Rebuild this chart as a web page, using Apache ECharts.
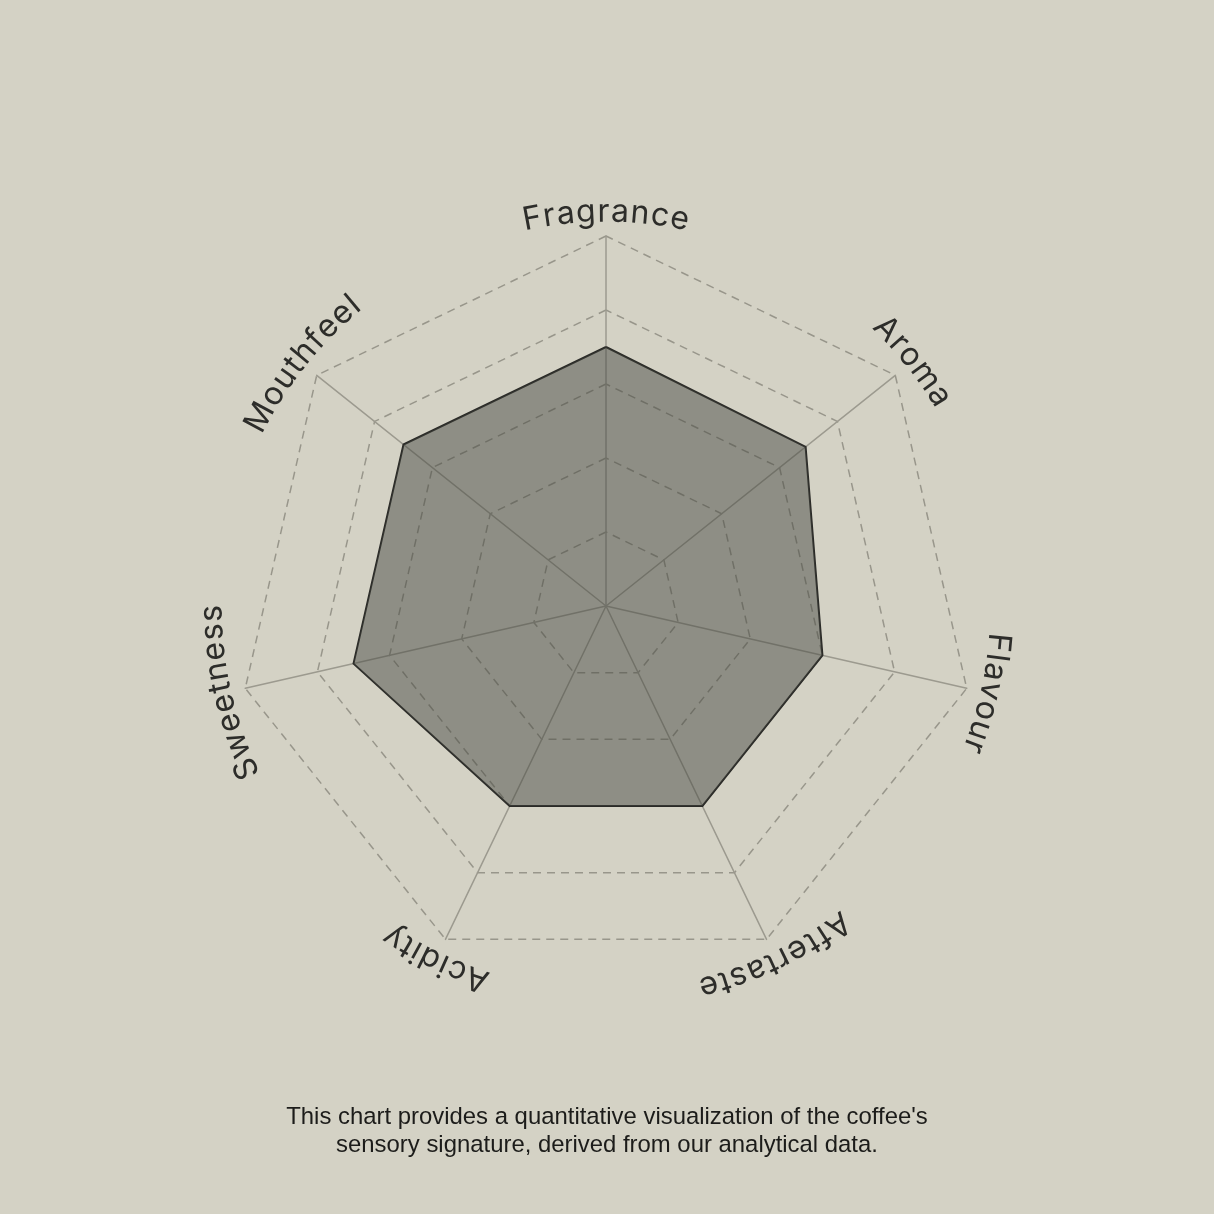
<!DOCTYPE html>
<html style="height: 100%">
<head>
    <meta charset="utf-8">
</head>
<body style="height: 100%; margin: 0; background: #d4d2c5">
<div id="container" style="width: 1214px; height: 1214px"></div>
<script type="text/javascript" src="https://cdn.jsdelivr.net/npm/echarts@6/dist/echarts.min.js"></script>
<script type="text/javascript">
// sensory profile, listed clockwise from the top
var attributes = ['Fragrance', 'Aroma', 'Flavour', 'Aftertaste', 'Acidity', 'Sweetness', 'Mouthfeel'];
var scores = [7, 6.9, 6, 6, 6, 7, 7];
var maxScore = 10;
var caption = "This chart provides a quantitative visualization of the coffee's\nsensory signature, derived from our analytical data.";

var cx = 606, cy = 606, rad = 370;
var labelRadius = 394;
var labelFont = '32px Inter';
var letterGap = 1.6;

var dom = document.getElementById('container');
var myChart = echarts.init(dom);

// echarts walks the radar counter-clockwise, so flip the order after the first one
var order = [0];
for (var k = attributes.length - 1; k > 0; k--) order.push(k);

// names are bent along a circle, one glyph at a time
var ctx = document.createElement('canvas').getContext('2d');
ctx.font = labelFont;
function arcLabel(text, centerAngle) {
    var widths = [];
    var total = 0;
    for (var i = 0; i < text.length; i++) {
        var w = ctx.measureText(text[i]).width;
        widths.push(w);
        total += w + (i > 0 ? letterGap : 0);
    }
    var items = [];
    var pos = 0;
    for (var j = 0; j < text.length; j++) {
        var mid = pos + widths[j] / 2 - total / 2;
        var a = centerAngle - mid / labelRadius;
        items.push({
            type: 'text',
            x: cx + labelRadius * Math.cos(a),
            y: cy - labelRadius * Math.sin(a),
            rotation: a - Math.PI / 2,
            style: {
                text: text[j],
                font: labelFont,
                fill: '#2d2d2a',
                align: 'center',
                verticalAlign: 'middle'
            },
            silent: true
        });
        pos += widths[j] + letterGap;
    }
    return items;
}

var graphics = [];
attributes.forEach(function (name, i) {
    var ang = Math.PI / 2 - i * 2 * Math.PI / attributes.length;
    graphics = graphics.concat(arcLabel(name, ang));
});
graphics.push({
    type: 'text',
    x: 607,
    y: 1131,
    style: {
        text: caption,
        font: '23.9px "Liberation Sans", Arial, sans-serif',
        fill: '#1c1c1a',
        align: 'center',
        verticalAlign: 'middle',
        lineHeight: 28
    }
});

var option = {
    backgroundColor: '#d4d2c5',
    animation: false,
    radar: {
        center: [cx, cy],
        radius: rad,
        startAngle: 90,
        splitNumber: 5,
        shape: 'polygon',
        indicator: order.map(function (i) { return { name: attributes[i], max: maxScore }; }),
        axisName: { show: false },
        splitArea: { show: false },
        splitLine: {
            lineStyle: { color: '#98968b', width: 1.5, type: [8, 6] }
        },
        axisLine: {
            lineStyle: { color: '#9c9a8f', width: 1.5 }
        }
    },
    series: [{
        type: 'radar',
        symbol: 'none',
        data: [{
            value: order.map(function (i) { return scores[i]; }),
            lineStyle: { color: '#2a2a27', width: 2 },
            areaStyle: { color: 'rgb(66,68,62)', opacity: 0.48 }
        }]
    }],
    graphic: graphics
};

if (option && typeof option === 'object') {
    myChart.setOption(option, true);
}
</script>
</body>
</html>
